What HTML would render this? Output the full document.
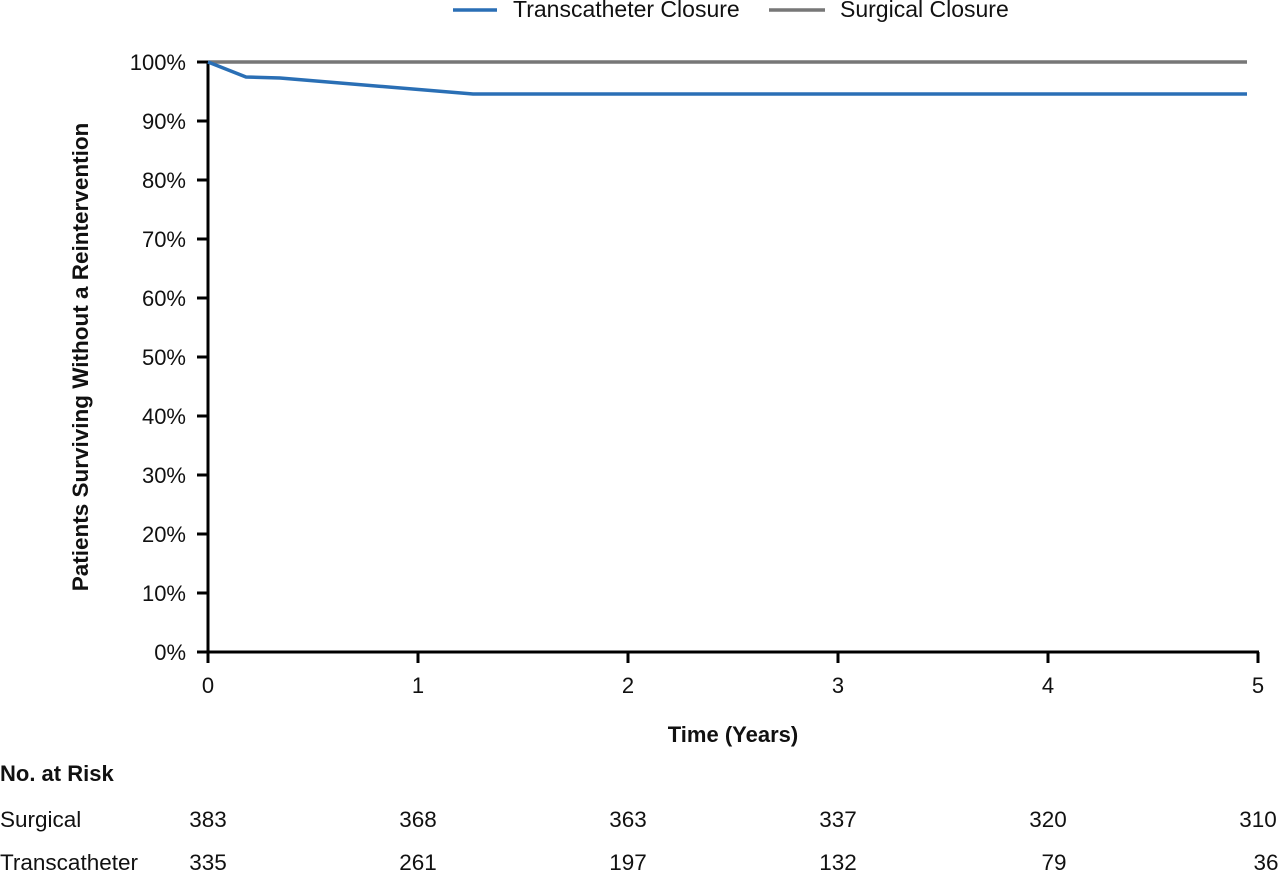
<!DOCTYPE html>
<html><head><meta charset="utf-8"><style>
html,body{margin:0;padding:0;background:#fff;}
svg text{font-family:"Liberation Sans",Arial,sans-serif;fill:#111;}
</style></head><body>
<svg width="1280" height="871" viewBox="0 0 1280 871" xmlns="http://www.w3.org/2000/svg">
<line x1="453" y1="10" x2="497" y2="10" stroke="#2a6fb5" stroke-width="3.5"/>
<text x="513" y="17" font-size="23">Transcatheter Closure</text>
<line x1="769" y1="10" x2="825" y2="10" stroke="#777" stroke-width="3.5"/>
<text x="840" y="17" font-size="23">Surgical Closure</text>
<line x1="208" y1="62" x2="208" y2="663" stroke="#000" stroke-width="3"/>
<line x1="197" y1="652" x2="1259" y2="652" stroke="#000" stroke-width="3"/>
<g stroke="#000" stroke-width="3">
<line x1="197" y1="62" x2="208" y2="62"/><line x1="197" y1="121" x2="208" y2="121"/>
<line x1="197" y1="180" x2="208" y2="180"/><line x1="197" y1="239" x2="208" y2="239"/>
<line x1="197" y1="298" x2="208" y2="298"/><line x1="197" y1="357" x2="208" y2="357"/>
<line x1="197" y1="416" x2="208" y2="416"/><line x1="197" y1="475" x2="208" y2="475"/>
<line x1="197" y1="534" x2="208" y2="534"/><line x1="197" y1="593" x2="208" y2="593"/>
<line x1="418" y1="652" x2="418" y2="663"/><line x1="628" y1="652" x2="628" y2="663"/>
<line x1="838" y1="652" x2="838" y2="663"/><line x1="1048" y1="652" x2="1048" y2="663"/>
<line x1="1258" y1="652" x2="1258" y2="663"/>
</g>
<g font-size="22" text-anchor="end">
<text x="186" y="70">100%</text><text x="186" y="129">90%</text><text x="186" y="188">80%</text>
<text x="186" y="247">70%</text><text x="186" y="306">60%</text><text x="186" y="365">50%</text>
<text x="186" y="424">40%</text><text x="186" y="483">30%</text><text x="186" y="542">20%</text>
<text x="186" y="601">10%</text><text x="186" y="660">0%</text>
</g>
<g font-size="22" text-anchor="middle">
<text x="208" y="693">0</text><text x="418" y="693">1</text><text x="628" y="693">2</text>
<text x="838" y="693">3</text><text x="1048" y="693">4</text><text x="1258" y="693">5</text>
</g>
<text x="733" y="742" font-size="22" font-weight="bold" text-anchor="middle">Time (Years)</text>
<text transform="translate(88,357) rotate(-90)" font-size="22.5" font-weight="bold" text-anchor="middle">Patients Surviving Without a Reintervention</text>
<line x1="208" y1="62" x2="1247" y2="62" stroke="#777" stroke-width="3.5"/>
<polyline points="208,62 246,77 280,78 473,94 1247,94" fill="none" stroke="#2a6fb5" stroke-width="3.5"/>
<text x="0" y="781" font-size="22" font-weight="bold">No. at Risk</text>
<g font-size="22.5">
<text x="0" y="827">Surgical</text><text x="0" y="870">Transcatheter</text>
</g>
<g font-size="22.5" text-anchor="middle">
<text x="208" y="827">383</text><text x="418" y="827">368</text><text x="628" y="827">363</text>
<text x="838" y="827">337</text><text x="1048" y="827">320</text><text x="1258" y="827">310</text>
<text x="208" y="870">335</text><text x="418" y="870">261</text><text x="628" y="870">197</text>
<text x="838" y="870">132</text><text x="1054" y="870">79</text><text x="1266" y="870">36</text>
</g>
</svg>
</body></html>
